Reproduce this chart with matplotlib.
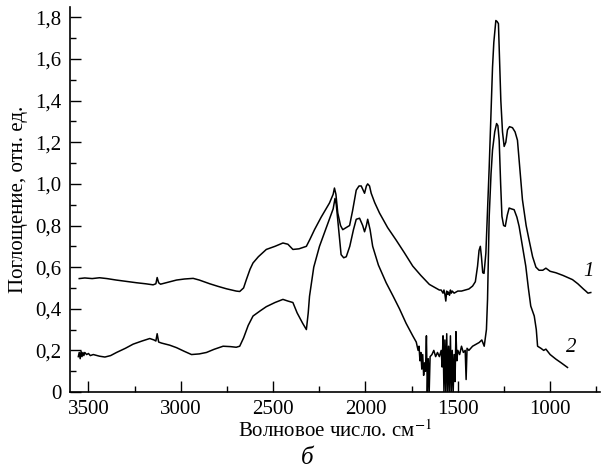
import matplotlib
matplotlib.use("Agg")
import matplotlib.pyplot as plt
from matplotlib.ticker import FixedLocator, FixedFormatter, MultipleLocator

plt.rcParams['font.family'] = ['Liberation Serif', 'DejaVu Serif']
plt.rcParams['mathtext.fontset'] = 'stix'

# ---- data (wavenumber, absorbance) ----
x1 = [3550, 3520, 3480, 3440, 3400, 3350, 3300, 3240, 3190, 3150, 3135, 3128, 3120, 3110,
      3080, 3023, 2980, 2933, 2900, 2843, 2800, 2753, 2700, 2681, 2660, 2645, 2625, 2609,
      2580, 2537, 2490, 2447, 2420, 2393, 2360, 2320, 2300, 2276, 2240, 2195, 2175, 2168,
      2160, 2150, 2135, 2123, 2105, 2086, 2070, 2050, 2035, 2023, 2005, 1995, 1988, 1978,
      1969, 1950, 1924, 1880, 1834, 1790, 1744, 1700, 1654, 1620, 1600, 1590, 1580, 1575,
      1570, 1565, 1560, 1555, 1550, 1545, 1540, 1535, 1530, 1520, 1510, 1500, 1480, 1460,
      1440, 1420, 1405, 1393, 1385, 1378, 1372, 1365, 1358, 1348, 1340, 1330, 1320, 1312,
      1305, 1298, 1294, 1287, 1280, 1274, 1267, 1258, 1249, 1240, 1231, 1220, 1204, 1190,
      1177, 1165, 1150, 1130, 1114, 1095, 1077, 1060, 1040, 1023, 1000, 969, 930, 879, 850,
      820, 807, 795, 780]
y1 = [0.545, 0.548, 0.545, 0.549, 0.545, 0.538, 0.532, 0.525, 0.520, 0.515, 0.520, 0.550,
      0.525, 0.518, 0.525, 0.538, 0.543, 0.546, 0.538, 0.520, 0.508, 0.496, 0.485, 0.483,
      0.500, 0.540, 0.590, 0.620, 0.650, 0.685, 0.700, 0.716, 0.710, 0.685, 0.688, 0.700,
      0.735, 0.780, 0.840, 0.908, 0.950, 0.980, 0.950, 0.860, 0.800, 0.780, 0.790, 0.800,
      0.870, 0.970, 0.990, 0.990, 0.955, 0.990, 1.000, 0.990, 0.955, 0.910, 0.860, 0.790,
      0.730, 0.670, 0.605, 0.560, 0.517, 0.500, 0.490, 0.490, 0.475, 0.490, 0.470, 0.437,
      0.485, 0.470, 0.480, 0.465, 0.490, 0.475, 0.485, 0.475, 0.480, 0.485, 0.485, 0.490,
      0.495, 0.509, 0.530, 0.605, 0.680, 0.700, 0.650, 0.573, 0.570, 0.668, 0.850, 1.080,
      1.350, 1.560, 1.680, 1.750, 1.785, 1.780, 1.770, 1.600, 1.400, 1.250, 1.180, 1.200,
      1.260, 1.275, 1.270, 1.250, 1.210, 1.080, 0.924, 0.800, 0.730, 0.650, 0.600, 0.585,
      0.585, 0.595, 0.580, 0.573, 0.560, 0.540, 0.520, 0.495, 0.485, 0.475, 0.478]

x2 = [3555, 3550, 3545, 3540, 3535, 3530, 3525, 3520, 3510, 3500, 3490, 3474, 3440, 3411,
      3380, 3348, 3300, 3258, 3210, 3168, 3145, 3135, 3128, 3120, 3104, 3060, 3023, 2980,
      2942, 2900, 2861, 2820, 2771, 2730, 2700, 2681, 2660, 2635, 2609, 2570, 2537, 2490,
      2447, 2420, 2393, 2370, 2340, 2320, 2310, 2303, 2280, 2249, 2220, 2195, 2175, 2165,
      2158, 2145, 2132, 2118, 2104, 2085, 2065, 2050, 2032, 2015, 2005, 1995, 1988, 1975,
      1961, 1930, 1888, 1850, 1816, 1780, 1762, 1744, 1725, 1715, 1710, 1705, 1700, 1695,
      1690, 1685, 1680, 1675, 1670, 1665, 1660, 1655, 1650, 1640, 1630, 1620, 1610, 1600,
      1590, 1585, 1580, 1575, 1570, 1565, 1560, 1555, 1550, 1545, 1540, 1535, 1530, 1525,
      1520, 1515, 1510, 1505, 1500, 1490, 1480, 1470, 1460, 1455, 1450, 1440, 1420, 1400,
      1384, 1370, 1357, 1345, 1339, 1330, 1320, 1312, 1300, 1290, 1283, 1276, 1268, 1261,
      1252, 1243, 1232, 1222, 1210, 1195, 1180, 1168, 1150, 1132, 1118, 1105, 1086, 1075,
      1068, 1050, 1035, 1023, 1000, 969, 940, 906]
y2 = [0.170, 0.190, 0.160, 0.195, 0.170, 0.190, 0.175, 0.190, 0.180, 0.185, 0.175, 0.180,
      0.172, 0.168, 0.175, 0.190, 0.210, 0.230, 0.245, 0.257, 0.250, 0.245, 0.280, 0.240,
      0.235, 0.225, 0.213, 0.195, 0.180, 0.183, 0.190, 0.205, 0.220, 0.218, 0.215, 0.220,
      0.260, 0.320, 0.365, 0.390, 0.410, 0.430, 0.445, 0.437, 0.430, 0.380, 0.330, 0.300,
      0.380, 0.460, 0.600, 0.700, 0.770, 0.830, 0.880, 0.930, 0.900, 0.780, 0.660, 0.645,
      0.650, 0.700, 0.780, 0.830, 0.835, 0.800, 0.770, 0.800, 0.830, 0.780, 0.700, 0.610,
      0.525, 0.460, 0.400, 0.330, 0.300, 0.270, 0.240, 0.200, 0.220, 0.150, 0.190, 0.110,
      0.180, 0.080, 0.140, 0.100, 0.270, 0.000, 0.160, 0.000, 0.170, 0.180, 0.200, 0.170,
      0.190, 0.170, 0.200, 0.120, 0.270, 0.000, 0.250, 0.000, 0.280, 0.000, 0.220, 0.000,
      0.270, 0.000, 0.200, 0.000, 0.180, 0.050, 0.290, 0.150, 0.200, 0.180, 0.220, 0.190,
      0.200, 0.060, 0.210, 0.200, 0.220, 0.230, 0.238, 0.250, 0.220, 0.300, 0.445, 0.844,
      1.050, 1.163, 1.250, 1.290, 1.280, 1.210, 1.000, 0.844, 0.800, 0.796, 0.850, 0.884,
      0.880, 0.876, 0.840, 0.796, 0.700, 0.605, 0.500, 0.413, 0.365, 0.300, 0.220, 0.210,
      0.200, 0.206, 0.180, 0.158, 0.140, 0.118]

curve_labels = ["1", "2"]
label_x = [790, 886]
label_y = [0.58, 0.215]

xticks = [3500, 3000, 2500, 2000, 1500, 1000]
xtick_labels = ["3500", "3000", "2500", "2000", "1500", "1000"]
yticks = [0, 0.2, 0.4, 0.6, 0.8, 1.0, 1.2, 1.4, 1.6, 1.8]
ytick_labels = ["0", "0,2", "0,4", "0,6", "0,8", "1,0", "1,2", "1,4", "1,6", "1,8"]

fig = plt.figure(figsize=(6.03, 4.73), dpi=100)
ax = fig.add_axes([70/603, 81/473, 530/603, 385/473])

ax.plot(x1, y1, color='black', lw=1.1)
ax.plot(x2, y2, color='black', lw=1.1)

for t, lx, ly in zip(curve_labels, label_x, label_y):
    ax.text(lx, ly, t, fontsize=15, style='italic', ha='center', va='center')

ax.set_xlim(3600, 730)
ax.set_ylim(0, 1.85)

ax.xaxis.set_major_locator(FixedLocator(xticks))
ax.xaxis.set_major_formatter(FixedFormatter(xtick_labels))
ax.xaxis.set_minor_locator(MultipleLocator(250))
ax.yaxis.set_major_locator(FixedLocator(yticks))
ax.yaxis.set_major_formatter(FixedFormatter(ytick_labels))
ax.yaxis.set_minor_locator(MultipleLocator(0.1))

ax.tick_params(which='both', direction='in', width=1.0, labelsize=15, colors='black')
ax.tick_params(which='major', length=8, pad=6)
ax.tick_params(which='minor', length=4)

for s in ['top', 'right']:
    ax.spines[s].set_visible(False)
for s in ['left', 'bottom']:
    ax.spines[s].set_linewidth(1.2)

ax.set_ylabel("Поглощение, отн. ед.", fontsize=15, labelpad=5)
ax.set_xlabel("Волновое число. см$^{-1}$", fontsize=15, labelpad=1)
fig.text(307/603, 1 - 458/473, "б", fontsize=18, style='italic', ha='center', va='center')

fig.savefig("out.png", dpi=100)
